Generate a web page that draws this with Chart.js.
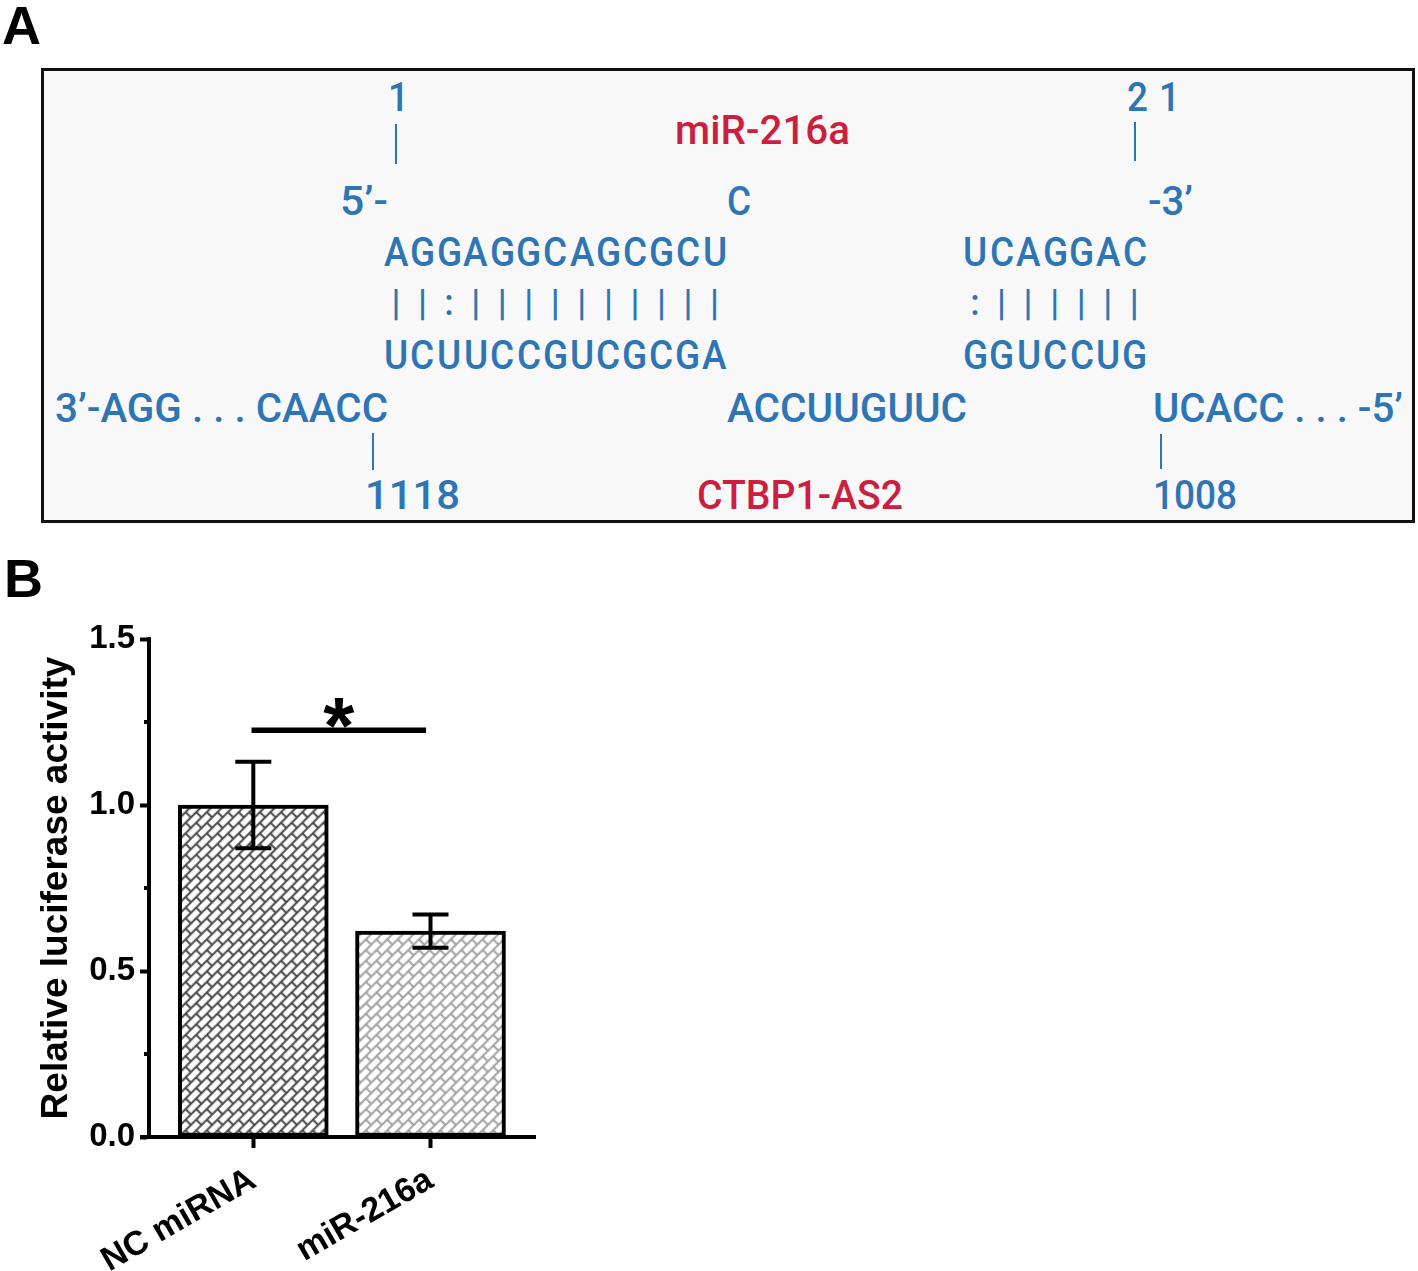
<!DOCTYPE html>
<html><head><meta charset="utf-8">
<script src="https://cdn.jsdelivr.net/npm/chart.js@4.4.1/dist/chart.umd.min.js"></script>
<style>
html,body{margin:0;padding:0;background:#fff;width:1418px;height:1271px;overflow:hidden;position:relative;font-family:"Liberation Sans",Arial,sans-serif;}
.lbl{position:absolute;font-weight:bold;font-size:54px;color:#000;line-height:1;}
#panelA{position:absolute;left:41px;top:68px;width:1374px;height:455px;box-sizing:border-box;border:3px solid #111;background:#f8f8f8;}
.t{position:absolute;white-space:nowrap;font-family:Roboto,"Noto Sans",sans-serif;font-weight:500;line-height:1;}
.vl{position:absolute;width:2.5px;background:#2e75b6;}
#wrapB{position:absolute;left:0;top:600px;width:600px;height:671px;}
</style></head>
<body>
<div class="lbl" style="left:2px;top:-2px;">A</div>
<div id="panelA"></div>
<div class="lbl" style="left:4px;top:551px;">B</div>
<div id="wrapB"><canvas id="c" width="600" height="671"></canvas></div>
<script>
// ---------- Panel B data ----------
const categories = ['NC miRNA', 'miR-216a'];
const meanValues = [1.00, 0.62];
const errHigh = [1.13, 0.67];
const errLow = [0.87, 0.57];
const yTickValues = [0, 0.5, 1.0, 1.5];
const yMinorTickValues = [0.25, 0.75, 1.25];
const sigSpan = [0.99, 1.975];
const sigLevel = 1.225;
const sigText = '*';
const patternColors = ['#474747', '#a0a0a0'];

// ---------- Panel A text ----------
const BLUE = '#2e75b6', RED = '#cc1f3f';
const FS = 41, KC = 0.486;
function mk(text, color, fs) {
  const s = document.createElement('span');
  s.className = 't'; s.textContent = text; s.style.color = color; s.style.fontSize = fs + 'px';
  document.body.appendChild(s); return s;
}
function placeCenter(text, cx, cy, color, fs, sx) {
  const s = mk(text, color, fs);
  s.style.top = (cy - KC * fs) + 'px';
  const w = s.getBoundingClientRect().width;
  s.style.left = (cx - w * sx / 2) + 'px';
  s.style.transformOrigin = '0 50%';
  s.style.transform = 'scaleX(' + sx + ')';
}
function placeFit(text, x0, x1, cy, color, fs) {
  const s = mk(text, color, fs);
  s.style.top = (cy - KC * fs) + 'px';
  const w = s.getBoundingClientRect().width;
  s.style.left = x0 + 'px';
  s.style.transformOrigin = '0 50%';
  s.style.transform = 'scaleX(' + ((x1 - x0) / w) + ')';
}
function placeGrid(text, cx0, pitch, cy, color, fs, sx) {
  [...text].forEach((ch, i) => placeCenter(ch, cx0 + i * pitch, cy, color, fs, sx));
}
function vline(x, y0, y1) {
  const d = document.createElement('div'); d.className = 'vl';
  d.style.left = (x - 1.25) + 'px'; d.style.top = y0 + 'px'; d.style.height = (y1 - y0) + 'px';
  document.body.appendChild(d);
}
const P = 26.55, SX = 0.9;
placeCenter('1', 398, 97, BLUE, FS, SX);
placeGrid('21', 1137, 32, 97, BLUE, FS, SX);
placeFit('miR-216a', 675, 850, 130, RED, FS);
vline(396, 124, 164); vline(1135, 122, 161);
placeFit("5\u2019-", 340, 388, 201, BLUE, FS);
placeCenter('C', 739, 201, BLUE, FS, SX);
placeFit("-3\u2019", 1148, 1193, 201, BLUE, FS);
placeGrid('AGGAGGCAGCGCU', 396, P, 252, BLUE, FS, SX);
placeGrid('||:||||||||||', 396, P, 302, BLUE, 36, 1);
placeGrid('UCUUCCGUCGCGA', 396, P, 355, BLUE, FS, SX);
placeGrid('UCAGGAC', 975.5, P, 252, BLUE, FS, SX);
placeGrid(':||||||', 975, P, 302, BLUE, 36, 1);
placeGrid('GGUCCUG', 975.5, P, 355, BLUE, FS, SX);
placeFit("3\u2019-AGG . . . CAACC", 55, 388, 408, BLUE, FS);
placeFit('ACCUUGUUC', 727, 967, 408, BLUE, FS);
placeFit("UCACC . . . -5\u2019", 1153, 1403, 408, BLUE, FS);
vline(373, 433, 470); vline(1161, 434, 469);
placeFit('1118', 365, 460, 495, BLUE, FS);
placeFit('CTBP1-AS2', 697, 903, 495, RED, FS);
placeFit('1008', 1153, 1237, 495, BLUE, FS);

// ---------- Panel B chart ----------
const canvas = document.getElementById('c');
const cctx = canvas.getContext('2d');
function brickPattern(color) {
  const t = document.createElement('canvas'); t.width = 15; t.height = 15;
  const g = t.getContext('2d');
  g.fillStyle = '#fff'; g.fillRect(0, 0, 15, 15);
  g.strokeStyle = color; g.lineWidth = 2;
  g.beginPath();
  g.moveTo(0, 3.75); g.lineTo(15, 3.75);
  g.moveTo(0, 11.25); g.lineTo(15, 11.25);
  g.moveTo(3.75, 3.75); g.lineTo(3.75, 11.25);
  g.moveTo(11.25, 11.25); g.lineTo(11.25, 15);
  g.moveTo(11.25, 0); g.lineTo(11.25, 3.75);
  g.stroke();
  const p = cctx.createPattern(t, 'repeat');
  p.setTransform(new DOMMatrix().rotateSelf(-45));
  return p;
}
const FONT = '"Liberation Sans", Arial, sans-serif';

const overlay = {
  id: 'overlay',
  afterDraw(chart) {
    const { ctx, scales: { x, y }, chartArea: a } = chart;
    ctx.save();
    ctx.strokeStyle = '#000';
    ctx.lineCap = 'butt';
    ctx.lineWidth = 4;
    categories.forEach((c, i) => {
      const px = x.getPixelForValue(i + 1);
      const yh = y.getPixelForValue(errHigh[i]);
      const yl = y.getPixelForValue(errLow[i]);
      ctx.beginPath();
      ctx.moveTo(px, yh); ctx.lineTo(px, yl);
      ctx.moveTo(px - 18, yh); ctx.lineTo(px + 18, yh);
      ctx.moveTo(px - 18, yl); ctx.lineTo(px + 18, yl);
      ctx.stroke();
    });
    yMinorTickValues.forEach(v => {
      const py = y.getPixelForValue(v);
      ctx.beginPath(); ctx.moveTo(a.left - 5, py); ctx.lineTo(a.left, py); ctx.stroke();
    });
    ctx.beginPath(); ctx.moveTo(a.left - 9, a.bottom); ctx.lineTo(a.left, a.bottom); ctx.stroke();
    const sy = y.getPixelForValue(sigLevel);
    ctx.lineWidth = 5.5;
    ctx.beginPath();
    ctx.moveTo(x.getPixelForValue(sigSpan[0]), sy);
    ctx.lineTo(x.getPixelForValue(sigSpan[1]), sy);
    ctx.stroke();
    const fs = 80;
    ctx.fillStyle = '#000';
    ctx.font = 'bold ' + fs + 'px ' + FONT;
    ctx.textAlign = 'center';
    ctx.textBaseline = 'alphabetic';
    ctx.fillText(sigText, x.getPixelForValue((sigSpan[0] + sigSpan[1]) / 2), sy - 22 + 0.555 * fs);
    ctx.restore();
  }
};

new Chart(canvas, {
  type: 'bar',
  data: {
    datasets: [{
      data: categories.map((c, i) => ({ x: i + 1, y: meanValues[i] })),
      backgroundColor: patternColors.map(brickPattern),
      borderColor: '#000',
      borderWidth: 4,
      borderSkipped: false,
      barThickness: 150
    }]
  },
  options: {
    responsive: false,
    animation: false,
    devicePixelRatio: 1,
    layout: { padding: { top: 39, right: 65, left: 0, bottom: 0 } },
    plugins: { legend: { display: false }, tooltip: { enabled: false } },
    scales: {
      x: {
        type: 'linear', min: 0.4114, max: 2.5897, offset: false,
        afterBuildTicks: s => { s.ticks = categories.map((c, i) => ({ value: i + 1 })); },
        afterFit: s => { s.height = 134; },
        ticks: {
          callback: (v, i) => categories[i], autoSkip: false,
          minRotation: 30, maxRotation: 30, padding: 12, color: '#000',
          font: { family: FONT, size: 34, weight: 'bold' }
        },
        grid: { display: true, offset: false, drawOnChartArea: false, drawTicks: true, tickLength: 11, tickWidth: 4, tickColor: '#000' },
        border: { display: true, width: 4, color: '#000' }
      },
      y: {
        min: 0, max: 1.5,
        afterBuildTicks: s => { s.ticks = yTickValues.map(v => ({ value: v })); },
        afterFit: s => { s.width = 149; },
        ticks: {
          callback: v => v.toFixed(1), padding: 5, color: '#000',
          font: { family: FONT, size: 33, weight: 'bold' }
        },
        grid: { display: true, drawOnChartArea: false, drawTicks: true, tickLength: 9, tickWidth: 4, tickColor: '#000' },
        border: { display: true, width: 4, color: '#000' },
        title: {
          display: true, text: 'Relative luciferase activity', color: '#000',
          font: { family: FONT, size: 37, weight: 'bold' }, padding: { top: 35, bottom: 0 }
        }
      }
    }
  },
  plugins: [overlay]
});
</script>
</body></html>
